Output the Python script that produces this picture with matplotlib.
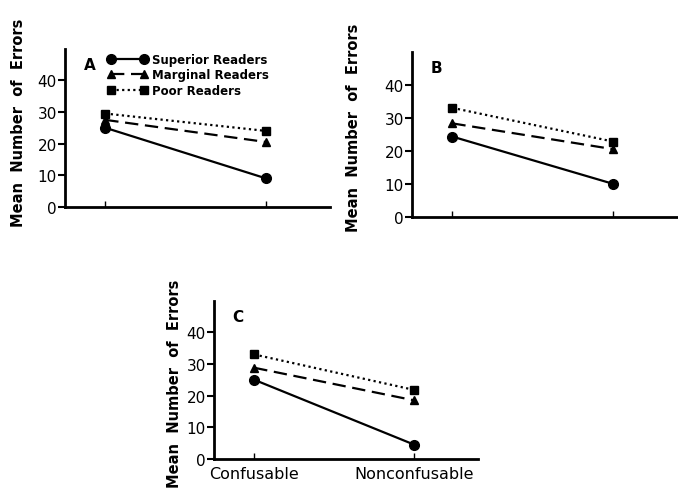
import matplotlib
matplotlib.use("Agg")
import matplotlib.pyplot as plt

conditions = ["Confusable", "Nonconfusable"]
groups = ["Superior Readers", "Marginal Readers", "Poor Readers"]
panel_names = ["A", "B", "C"]

superior = {"A": [25.0, 9.0], "B": [24.3, 10.0], "C": [25.0, 4.5]}
marginal = {"A": [27.5, 20.5], "B": [28.3, 20.5], "C": [28.8, 18.5]}
poor = {"A": [29.5, 24.0], "B": [33.0, 22.8], "C": [33.0, 21.8]}
y_ticks = [0, 10, 20, 30, 40]

styles = [
    dict(ls="-", marker="o", ms=7),
    dict(ls=(0, (6, 3)), marker="^", ms=6),
    dict(ls=(0, (1, 1.5)), marker="s", ms=6),
]

fig = plt.figure(figsize=(6.78, 5.02), dpi=100)
rects = {
    "A": [0.096, 0.586, 0.391, 0.315],
    "B": [0.608, 0.566, 0.391, 0.329],
    "C": [0.316, 0.084, 0.389, 0.315],
}
ylab_pos = {"A": (0.028, 0.755), "B": (0.522, 0.745), "C": (0.258, 0.235)}

x = [1, 2]
for name in panel_names:
    ax = fig.add_axes(rects[name])
    series = [superior[name], marginal[name], poor[name]]
    for vals, st, lab in zip(series, styles, groups):
        ax.plot(x, vals, color="black", lw=1.6, marker=st["marker"],
                ms=st["ms"], ls=st["ls"], label=lab)
    ax.set_xlim(0.75, 2.40)
    ax.set_ylim(0, 50)
    for s in ["top", "right"]:
        ax.spines[s].set_visible(False)
    for s in ["left", "bottom"]:
        ax.spines[s].set_linewidth(2)
    ax.set_yticks(y_ticks)
    ax.set_yticklabels([str(v) for v in y_ticks], fontsize=11)
    ax.tick_params(axis="y", direction="out", length=5, width=1.5, pad=1)
    ax.set_xticks(x)
    ax.tick_params(axis="x", direction="in", length=4, width=1)
    if name == "C":
        ax.set_xticklabels(conditions, fontsize=11.5)
        ax.tick_params(axis="x", pad=5)
    else:
        ax.set_xticklabels([])
    ax.text(0.07, 0.95, name, transform=ax.transAxes, fontsize=11,
            fontweight="bold", va="top", ha="left")
    fig.text(ylab_pos[name][0], ylab_pos[name][1], "Mean  Number  of  Errors",
             rotation=90, fontsize=10.5, fontweight="bold",
             ha="center", va="center")
    if name == "A":
        ax.legend(loc="upper left", bbox_to_anchor=(0.12, 1.04), frameon=False,
                  numpoints=2, handlelength=3.4, handletextpad=0.4,
                  labelspacing=0.2, prop=dict(size=8.5, weight="bold"))

fig.savefig("out.png", dpi=100)
